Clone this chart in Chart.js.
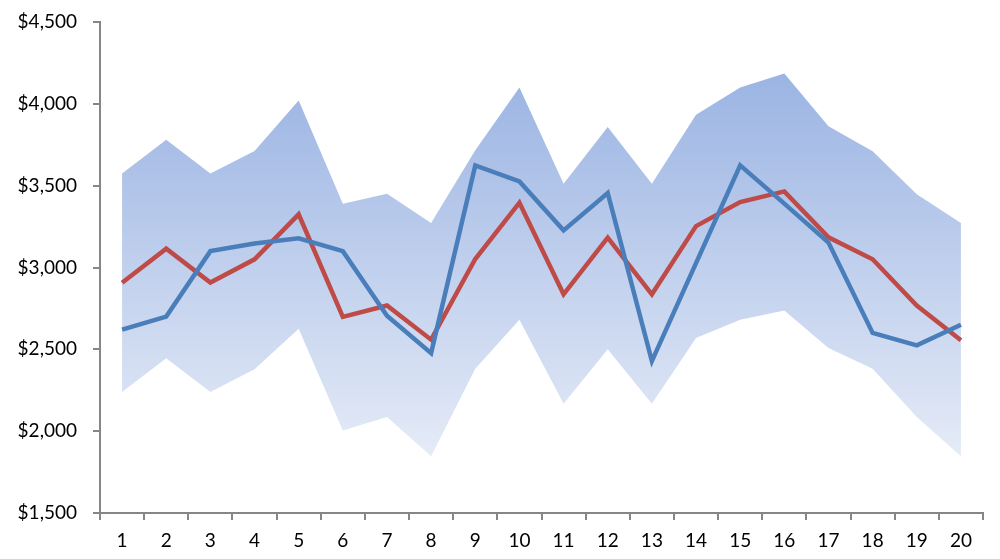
<!DOCTYPE html>
<html>
<head>
<meta charset="utf-8">
<script src="https://cdn.jsdelivr.net/npm/chart.js@4/dist/chart.umd.min.js"></script>
<style>
  html, body { margin: 0; padding: 0; background: #fff; }
  #wrap { width: 1000px; height: 559px; }
</style>
</head>
<body>
<div id="wrap"><canvas id="myChart" width="1000" height="559"></canvas></div>
<script>
// values
const categories = ['1','2','3','4','5','6','7','8','9','10','11','12','13','14','15','16','17','18','19','20'];
const upperBand = [3575, 3780, 3575, 3712, 4020, 3390, 3450, 3272, 3716, 4100, 3512, 3858, 3512, 3934, 4100, 4186, 3863, 3710, 3447, 3272];
const lowerBand = [2240, 2445, 2240, 2379, 2626, 2004, 2086, 1846, 2381, 2681, 2168, 2501, 2168, 2569, 2681, 2738, 2508, 2381, 2086, 1846];
const blueSeries = [2620, 2700, 3100, 3147, 3178, 3100, 2705, 2477, 3624, 3526, 3227, 3455, 2428, 3027, 3624, 3390, 3152, 2600, 2524, 2650];
const redSeries = [2907, 3115, 2908, 3050, 3325, 2698, 2768, 2559, 3052, 3396, 2836, 3182, 2836, 3253, 3400, 3465, 3184, 3050, 2768, 2555];
const yTicks = [1500, 2000, 2500, 3000, 3500, 4000, 4500];

const axisGrey = '#868686';
const font = { family: 'Lato, "Open Sans", sans-serif', size: 19 };

// vertical gradient over the band, darker at the top
const bandFill = (context) => {
  const chart = context.chart;
  const y = chart.scales.y;
  if (!chart.chartArea || !y) return '#c3d1ec';
  const top = y.getPixelForValue(Math.max(...upperBand));
  const bottom = y.getPixelForValue(Math.min(...lowerBand));
  const g = chart.ctx.createLinearGradient(0, top, 0, bottom);
  g.addColorStop(0, '#9bb4e3');
  g.addColorStop(1, '#e5ebf7');
  return g;
};

const ctx = document.getElementById('myChart').getContext('2d');
new Chart(ctx, {
  type: 'line',
  data: {
    labels: categories,
    datasets: [
      {
        label: 'Blue',
        data: blueSeries,
        borderColor: '#4a7ebb',
        borderWidth: 4.5,
        pointRadius: 0,
        fill: false,
        tension: 0,
        order: 0,
      },
      {
        label: 'Red',
        data: redSeries,
        borderColor: '#be4b48',
        borderWidth: 4.5,
        pointRadius: 0,
        fill: false,
        tension: 0,
        order: 1,
      },
      {
        label: 'Upper',
        data: upperBand,
        borderWidth: 0,
        borderColor: 'rgba(0,0,0,0)',
        pointRadius: 0,
        backgroundColor: bandFill,
        fill: '+1',
        tension: 0,
        order: 2,
      },
      {
        label: 'Lower',
        data: lowerBand,
        borderWidth: 0,
        borderColor: 'rgba(0,0,0,0)',
        pointRadius: 0,
        fill: false,
        tension: 0,
        order: 3,
      },
    ],
  },
  options: {
    responsive: false,
    animation: false,
    layout: { padding: { top: 22, right: 17, bottom: 0, left: 0 } },
    plugins: {
      legend: { display: false },
      tooltip: { enabled: false },
    },
    scales: {
      x: {
        offset: true,
        grid: {
          display: true,
          offset: true,
          drawOnChartArea: false,
          drawTicks: true,
          tickLength: 7,
          color: axisGrey,
          lineWidth: 2,
        },
        border: { display: true, color: axisGrey, width: 2 },
        ticks: { color: '#000', font: font, padding: 9, maxRotation: 0, autoSkip: false },
        afterFit: (scale) => {
          scale.height = 46;
          scale.paddingLeft = 0;
          scale.paddingRight = 0;
        },
      },
      y: {
        min: 1500,
        max: 4500,
        afterBuildTicks: (scale) => { scale.ticks = yTicks.map(v => ({ value: v })); },
        grid: {
          display: true,
          drawOnChartArea: false,
          drawTicks: true,
          tickLength: 7,
          color: axisGrey,
          lineWidth: 2,
        },
        border: { display: true, color: axisGrey, width: 2 },
        ticks: {
          color: '#000',
          font: font,
          padding: 16,
          callback: (v) => '$' + Number(v).toLocaleString('en-US'),
        },
        afterFit: (scale) => {
          scale.width = 100;
          scale.paddingTop = 0;
          scale.paddingBottom = 0;
        },
      },
    },
  },
});
</script>
</body>
</html>
